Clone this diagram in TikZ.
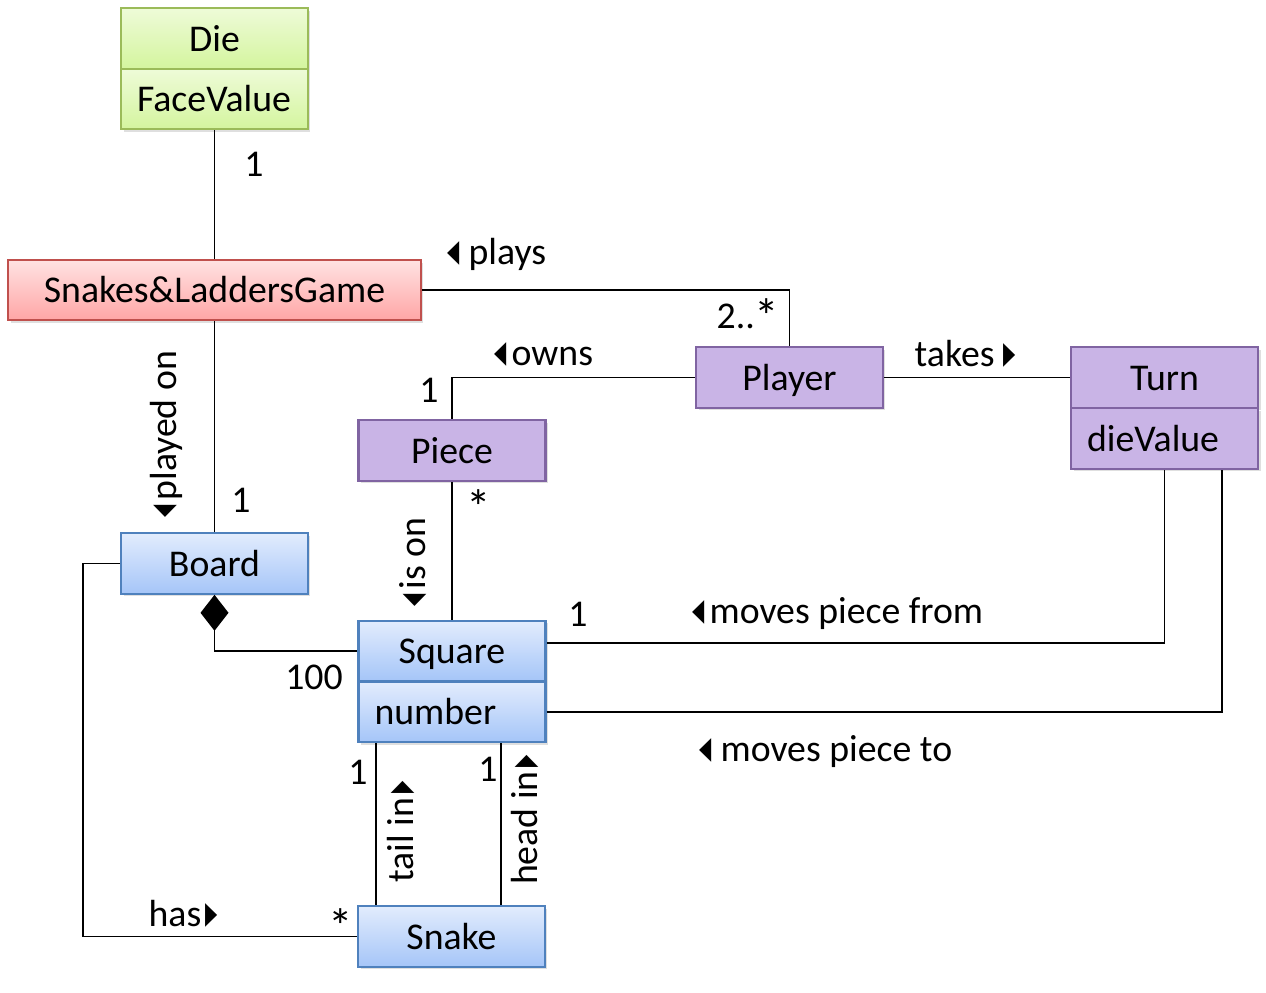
\documentclass[tikz,border=0pt]{standalone}
\usepackage{fontspec}
\usepackage{graphicx}
\setmainfont{Carlito}
\newfontfamily\symfont{DejaVu Sans}
\usetikzlibrary{shadows,arrows.meta}

\definecolor{greenline}{HTML}{9BBB59}
\definecolor{greentop}{HTML}{EEFBD8}
\definecolor{greenbot}{HTML}{D4F59E}
\definecolor{redline}{HTML}{C0504D}
\definecolor{redtop}{HTML}{FFE2E2}
\definecolor{redbot}{HTML}{FFA6A6}
\definecolor{purpleline}{HTML}{8064A2}
\definecolor{purplefill}{HTML}{C9B4E6}
\definecolor{blueline}{HTML}{4F81BD}
\definecolor{bluetop}{HTML}{E2ECFD}
\definecolor{bluebot}{HTML}{A5C5F8}

\newcommand{\tril}{{\symfont\raisebox{0.08em}{\scalebox{0.42}[0.82]{◀}}}}
\newcommand{\trir}{{\symfont\raisebox{0.08em}{\scalebox{0.42}[0.82]{▶}}}}
\newcommand{\many}{\raisebox{-0.12em}{\scalebox{1.3}{*}}}

\begin{document}
\begin{tikzpicture}[x=0.02cm, y=-0.02cm, line width=1.1pt,
  font=\fontsize{21.5}{26}\selectfont,
  box/.style={draw, line width=1.2pt, minimum width=3.74cm, minimum height=1.21cm, inner sep=0pt,
    text height=18pt, text depth=3.7pt,
    drop shadow={shadow xshift=0.05cm, shadow yshift=-0.05cm, opacity=0.25}},
  attr/.style={text width=3.1cm, align=left},
  greenbox/.style={box, draw=greenline, top color=greentop, bottom color=greenbot},
  redbox/.style={box, draw=redline, top color=redtop, bottom color=redbot},
  purplebox/.style={box, draw=purpleline, fill=purplefill},
  bluebox/.style={box, draw=blueline, top color=bluetop, bottom color=bluebot},
  lbl/.style={inner sep=0pt}]
\useasboundingbox (0,0) rectangle (1266,992);

% classes
\node[greenbox] (die) at (214.5,38.5) {Die};
\node[greenbox, attr] (dieAttr) at (214.5,99) {FaceValue};
\node[redbox, minimum width=8.26cm, minimum height=1.2cm] (game) at (214.5,290) {Snakes\&LaddersGame};
\node[purplebox] (player) at (789.5,377.5) {Player};
\node[purplebox] (turn) at (1164.5,377.5) {Turn};
\node[purplebox, attr] (turnAttr) at (1164.5,438.5) {dieValue};
\node[purplebox] (piece) at (452,450.5) {Piece};
\node[bluebox] (board) at (214.5,563.5) {Board};
\node[bluebox] (square) at (452,651) {Square};
\node[bluebox, attr] (squareAttr) at (452,712) {number};
\node[bluebox] (snake) at (451.5,936.5) {Snake};

% associations
\draw (dieAttr.south) -- (game.north);
\draw (game.east) -| (player.north);
\draw (player.west) -| (piece.north);
\draw (player.east) -- (turn.west);
\draw (game.south) -- (board.north);
\draw (piece.south) -- (square.north);
\draw[{Diamond[length=0.72cm, width=0.56cm]}-] (board.south) |- (square.west);
\draw (board.west) -- ++(-37,0) |- (snake.west);
\draw ([yshift=0.16cm]square.east) -| (turnAttr.south);
\draw (squareAttr.east) -| ([xshift=1.15cm]turnAttr.south);
\draw ([xshift=-1.52cm]squareAttr.south) -- ([xshift=-1.52cm]squareAttr.south |- snake.north);
\draw ([xshift=0.98cm]squareAttr.south) -- ([xshift=0.98cm]squareAttr.south |- snake.north);

% multiplicities
\node[lbl] (mDie) at (254,164) {1};
\node[lbl] (mPlayer) at (748,316) {2..\many};
\node[lbl] (mPiece) at (429,390) {1};
\node[lbl] (mBoard) at (241,500) {1};
\node[lbl] (mSquareA) at (479,507) {\many};
\node[lbl] (mSquareB) at (314,677) {100};
\node[lbl] (mSnake) at (341,926) {\many};
\node[lbl] (mFrom) at (578,614) {1};
\node[lbl] (mTail) at (358,772) {1};
\node[lbl] (mHead) at (488,769) {1};

% association names
\node[lbl] (plays) at (497,254) {\tril\ plays};
\node[lbl] (owns) at (544,354) {\tril\kern0.12em owns};
\node[lbl] (takes) at (965,354) {takes \trir};
\node[lbl, rotate=90] (playedOn) at (166,434) {\tril\kern0.12em played on};
\node[lbl, rotate=90] (isOn) at (413,562) {\tril\kern0.12em is on};
\node[lbl] (has) at (183,914) {has\kern0.1em\trir};
\node[lbl] (movesFrom) at (838,614) {\tril\kern0.12em moves piece from};
\node[lbl] (movesTo) at (826,752) {\tril\ moves piece to};
\node[lbl, rotate=90] (tailIn) at (401,832) {tail in\kern0.1em\trir};
\node[lbl, rotate=90] (headIn) at (525,820) {head in\kern0.1em\trir};
\end{tikzpicture}
\end{document}
